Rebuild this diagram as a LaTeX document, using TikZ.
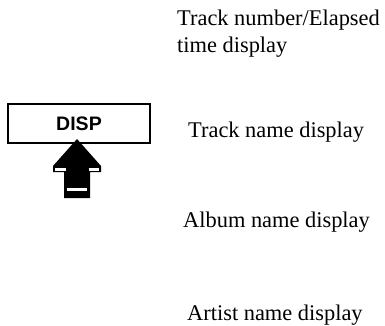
\documentclass[tikz,border=0pt]{standalone}
\usepackage{fontspec}
\setmainfont{Liberation Serif}
\setsansfont{Liberation Sans}
\usepackage{tikz}
\usetikzlibrary{positioning}

\tikzset{
  label text/.style={anchor=west, inner sep=0pt, align=left,
    font=\fontsize{22.4}{27}\selectfont},
  key box/.style={draw, line width=1.6pt, minimum width=142pt, minimum height=39pt,
    inner sep=0pt, font=\sffamily\bfseries\fontsize{19.5}{21}\selectfont},
}

\begin{document}
\begin{tikzpicture}[x=1pt, y=-1pt]
  \useasboundingbox (0,0) rectangle (385,326);
  % DISP key
  \node[key box] (disp) at (79,123.5) {DISP};
  % push arrow
  \fill (77,139) -- (101,166) -- (101,172) -- (90,172) -- (90,198)
    -- (64,198) -- (64,172) -- (53,172) -- (53,166) -- cycle;
  \draw[white, line width=2.4pt] (55,169.5) -- (65.5,169.5);
  \draw[white, line width=2.4pt] (88.5,169.5) -- (99,169.5);
  \draw[white, line width=2.4pt] (67,189.5) -- (87,189.5);
  % display modes
  \node[label text] (elapsed) at (177,33.5) {Track number/Elapsed\\time display};
  \node[label text] (trackname) at (188,132) {Track name display};
  \node[label text] (album) at (183,222) {Album name display};
  \node[label text] (artist) at (187,315) {Artist name display};
\end{tikzpicture}
\end{document}
